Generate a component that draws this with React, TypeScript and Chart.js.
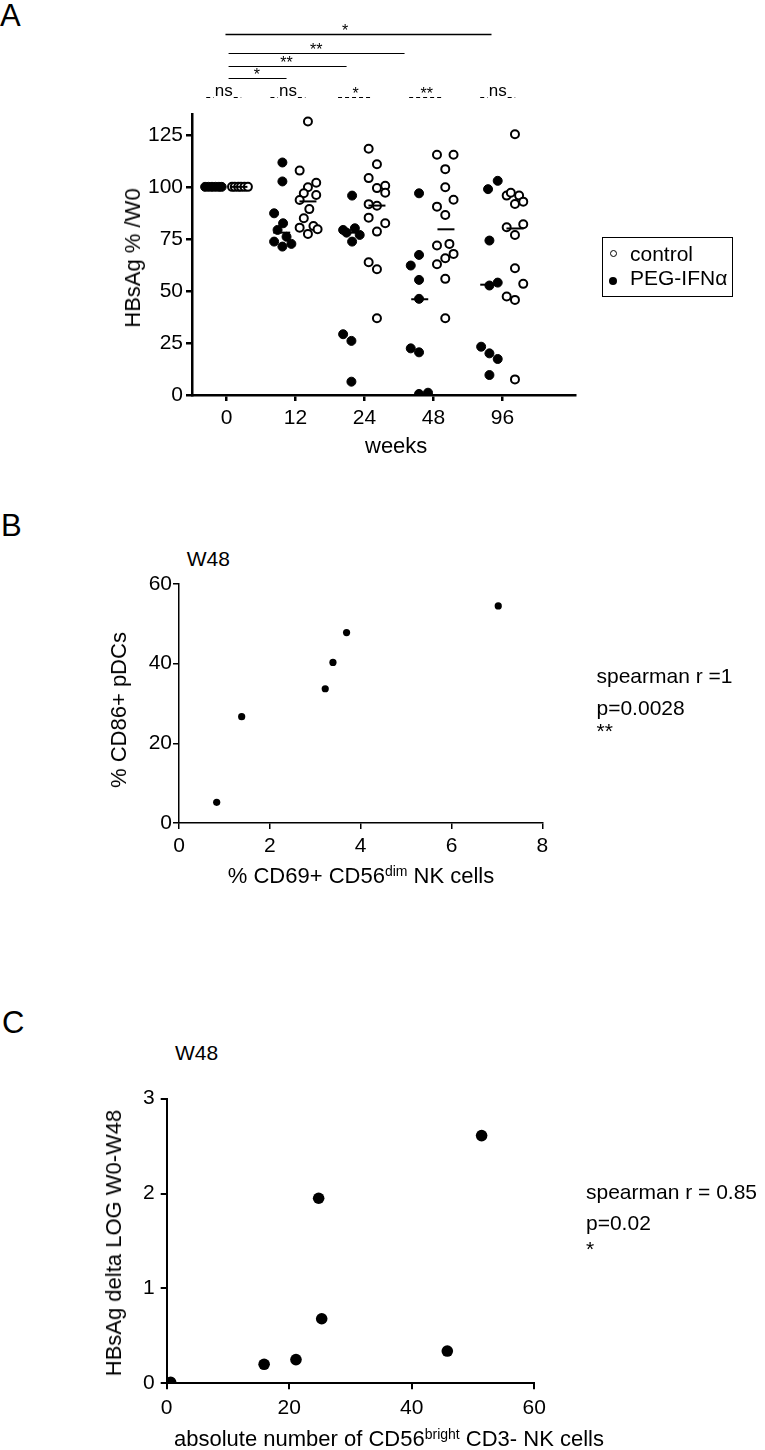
import React, { useEffect, useRef } from 'react';
import { Chart, registerables } from 'chart.js';
Chart.register(...registerables);

const FONT = '"Liberation Sans", Arial, Helvetica, sans-serif';

// ---------- Panel A data ----------
const weekLabels = ['0', '12', '24', '48', '96'];
const aYTicks = [0, 25, 50, 75, 100, 125];
const aXTicks = [0, 1, 2, 3, 4];
const pegValues = [
  [100, 100, 100, 100, 100, 100],
  [111.7, 102.6, 87.3, 82.5, 79.3, 73.7, 71.3, 72.6, 76],
  [95.8, 79.3, 80.1, 76.9, 73.7, 78, 29.2, 26, 6.4],
  [96.9, 67.3, 62.2, 55.3, 46.2, 22.4, 20.5, 0.5, 1.1],
  [102.9, 98.9, 74.2, 52.6, 54, 23.2, 20, 17.3, 9.6],
];
const pegJitter = [
  [-0.31, -0.26, -0.21, -0.16, -0.11, -0.07],
  [-0.19, -0.19, -0.31, -0.18, -0.26, -0.31, -0.19, -0.06, -0.13],
  [-0.18, -0.31, -0.14, -0.07, -0.18, -0.26, -0.31, -0.19, -0.19],
  [-0.21, -0.21, -0.33, -0.21, -0.21, -0.33, -0.21, -0.21, -0.08],
  [-0.07, -0.21, -0.19, -0.19, -0.07, -0.31, -0.19, -0.07, -0.19],
];
const ctrlValues = [
  [100, 100, 100, 100, 100, 100],
  [131.4, 107.8, 102, 99.8, 96.9, 96.1, 93.7, 89.3, 84.9, 81.2, 80.4, 79.6, 77.4],
  [118.3, 110.9, 104.2, 100.5, 99.4, 97.2, 91.7, 90.9, 85.2, 82.5, 78.5, 63.8, 60.4, 36.9],
  [115.4, 115.4, 108.5, 99.8, 93.8, 90.5, 86.5, 71.8, 72.6, 67.8, 65.7, 62.8, 55.8, 36.9],
  [125.3, 95.8, 97.2, 95.8, 91.8, 92.9, 80.6, 82, 76.9, 60.9, 53.4, 47.3, 45.7, 7.5],
];
const ctrlJitter = [
  [0.08, 0.12, 0.17, 0.21, 0.26, 0.31],
  [0.18, 0.06, 0.3, 0.18, 0.12, 0.3, 0.06, 0.2, 0.12, 0.26, 0.06, 0.32, 0.18],
  [0.06, 0.18, 0.06, 0.3, 0.18, 0.3, 0.06, 0.18, 0.06, 0.3, 0.18, 0.06, 0.18, 0.18],
  [0.05, 0.29, 0.17, 0.17, 0.29, 0.05, 0.17, 0.05, 0.23, 0.29, 0.17, 0.05, 0.17, 0.17],
  [0.18, 0.06, 0.12, 0.24, 0.18, 0.3, 0.06, 0.3, 0.18, 0.18, 0.3, 0.06, 0.18, 0.18],
];
const pegMeans = [100, 78, 78, 46, 53];
const ctrlMeans = [100, 93, 91, 79.6, 80];
const pegMeanOffset = -0.2;
const ctrlMeanOffset = 0.18;

// significance annotations (x in category units, level in y units)
const bracketFrom = [0.03, 0.03, 0.03, -0.015];
const bracketTo = [0.87, 1.74, 2.58, 3.84];
const bracketLevel = [152.4, 158.3, 164.2, 173.6];
const bracketLabels = ['*', '**', '**', '*'];
const bracketLabelX = [0.44, 0.87, 1.3, 1.72];
const groupSig = ['ns', 'ns', '*', '**', 'ns'];
const groupSigX = [-0.04, 0.89, 1.87, 2.9, 3.93];
const groupSigLevel = 143.4;

// ---------- Panel B data ----------
const bX = [0.83, 1.38, 3.22, 3.39, 3.69, 7.03];
const bY = [5.2, 26.7, 33.7, 40.3, 47.8, 54.5];
const bXTicks = [0, 2, 4, 6, 8];
const bYTicks = [0, 20, 40, 60];

// ---------- Panel C data ----------
const cX = [0.65, 15.9, 21.1, 25.3, 24.8, 45.8, 51.4];
const cY = [0.01, 0.2, 0.25, 0.68, 1.95, 0.34, 2.61];
const cXTicks = [0, 20, 40, 60];
const cYTicks = [0, 1, 2, 3];

function axis(
  kind: 'x' | 'y',
  min: number,
  max: number,
  ticks: number[],
  lw: number,
  size: number,
  pad: number,
  label?: (v: number) => string
) {
  return {
    type: 'linear',
    min,
    max,
    position: kind === 'x' ? 'bottom' : 'left',
    afterBuildTicks: (s: any) => {
      s.ticks = ticks.map((v) => ({ value: v }));
    },
    afterFit: (s: any) => {
      if (kind === 'x') s.height = size;
      else s.width = size;
    },
    grid: {
      display: true,
      drawOnChartArea: false,
      drawTicks: true,
      tickLength: 6,
      color: '#000',
      lineWidth: lw,
      tickWidth: lw,
    },
    border: { display: true, color: '#000', width: lw },
    ticks: {
      color: '#000',
      font: { family: FONT, size: 21 },
      padding: pad,
      maxRotation: 0,
      autoSkip: false,
      callback: label ? (v: any) => label(Number(v)) : (v: any) => String(v),
    },
  };
}

const baseOptions = (padding: any, scales: any, extra: any = {}) => ({
  responsive: false,
  maintainAspectRatio: false,
  animation: false,
  devicePixelRatio: 1,
  layout: { padding },
  plugins: { legend: { display: false }, tooltip: { enabled: false }, title: { display: false } },
  scales,
  ...extra,
});

const sigPlugin = {
  id: 'sigMarks',
  afterDraw(chart: any) {
    const { ctx } = chart;
    const x = chart.scales.x;
    const y = chart.scales.y;
    ctx.save();
    ctx.fillStyle = '#000';
    ctx.strokeStyle = '#000';
    ctx.textAlign = 'center';
    ctx.textBaseline = 'alphabetic';
    bracketFrom.forEach((f, i) => {
      const py = Math.round(y.getPixelForValue(bracketLevel[i])) + 0.5;
      ctx.lineWidth = i === 3 ? 1.7 : 1.2;
      ctx.beginPath();
      ctx.moveTo(x.getPixelForValue(f), py);
      ctx.lineTo(x.getPixelForValue(bracketTo[i]), py);
      ctx.stroke();
      ctx.font = `16px ${FONT}`;
      ctx.fillText(bracketLabels[i], x.getPixelForValue(bracketLabelX[i]), py + 1.5);
    });
    const gy = Math.round(y.getPixelForValue(groupSigLevel)) + 0.5;
    groupSig.forEach((s, i) => {
      const cx = x.getPixelForValue(groupSigX[i]);
      const isNs = s === 'ns';
      ctx.font = isNs ? `17px ${FONT}` : `16px ${FONT}`;
      const w = ctx.measureText(s).width;
      ctx.fillText(s, cx, isNs ? gy - 1.5 : gy + 1.7);
      ctx.setLineDash([4, 3]);
      ctx.lineWidth = 1;
      ctx.beginPath();
      if (isNs) {
        ctx.moveTo(cx - 17.5, gy);
        ctx.lineTo(cx - w / 2 - 1, gy);
        ctx.moveTo(cx + w / 2 + 1, gy);
        ctx.lineTo(cx + 17.5, gy);
      } else {
        ctx.moveTo(cx - 17.5, gy);
        ctx.lineTo(cx + 17.5, gy);
      }
      ctx.stroke();
      ctx.setLineDash([]);
    });
    ctx.restore();
  },
};

function makeA() {
  const peg: any[] = [];
  const ctrl: any[] = [];
  pegValues.forEach((vals, w) => vals.forEach((v, j) => peg.push({ x: w + pegJitter[w][j], y: v })));
  ctrlValues.forEach((vals, w) => vals.forEach((v, j) => ctrl.push({ x: w + ctrlJitter[w][j], y: v })));
  const meanLine = {
    type: 'scatter',
    pointStyle: 'line',
    pointRadius: 8.5,
    pointBorderWidth: 2,
    borderColor: '#000',
    backgroundColor: '#000',
  };
  return {
    type: 'scatter',
    data: {
      datasets: [
        { ...meanLine, label: 'ctrl mean', data: ctrlMeans.map((m, w) => ({ x: w + ctrlMeanOffset, y: m })) },
        { ...meanLine, label: 'peg mean', data: pegMeans.map((m, w) => ({ x: w + pegMeanOffset, y: m })) },
        {
          label: 'control',
          data: ctrl,
          pointRadius: 4,
          pointBorderWidth: 2,
          borderColor: '#000',
          backgroundColor: '#fff',
        },
        {
          label: 'PEG-IFNα',
          data: peg,
          pointRadius: 4.5,
          pointBorderWidth: 1,
          borderColor: '#000',
          backgroundColor: '#000',
        },
      ],
    },
    options: baseOptions(
      { top: 114, right: 45, left: 0, bottom: 0 },
      {
        x: axis('x', -0.5, 5.05, aXTicks, 2.5, 75, 5, (v) => weekLabels[v] ?? ''),
        y: axis('y', 0, 135, aYTicks, 2.5, 192, 3),
      }
    ),
    plugins: [sigPlugin],
  };
}

function makeB() {
  return {
    type: 'scatter',
    data: {
      datasets: [
        {
          label: 'W48',
          data: bX.map((x, i) => ({ x, y: bY[i] })),
          pointRadius: 3.6,
          pointBorderWidth: 0,
          backgroundColor: '#000',
          borderColor: '#000',
        },
      ],
    },
    options: baseOptions(
      { top: 24, right: 77.7, left: 0, bottom: 0 },
      {
        x: axis('x', 0, 8, bXTicks, 1.5, 77, 5),
        y: axis('y', 0, 60, bYTicks, 1.5, 179, 1),
      }
    ),
  };
}

function makeC() {
  return {
    type: 'scatter',
    data: {
      datasets: [
        {
          label: 'W48',
          data: cX.map((x, i) => ({ x, y: cY[i] })),
          pointRadius: 5.8,
          pointBorderWidth: 0,
          backgroundColor: '#000',
          borderColor: '#000',
        },
      ],
    },
    options: baseOptions(
      { top: 18.3, right: 85.7, left: 0, bottom: 0 },
      {
        x: axis('x', 0, 60, cXTicks, 2, 66.7, 6),
        y: axis('y', 0, 3, cYTicks, 2, 166.7, 6),
      }
    ),
  };
}

function ChartCanvas(props: { left: number; top: number; width: number; height: number; make: () => any }) {
  const ref = useRef<HTMLCanvasElement | null>(null);
  useEffect(() => {
    if (!ref.current) return;
    const chart = new Chart(ref.current, props.make());
    return () => chart.destroy();
  }, []);
  return (
    <canvas
      ref={ref}
      width={props.width}
      height={props.height}
      style={{ position: 'absolute', left: props.left, top: props.top, width: props.width, height: props.height }}
    />
  );
}

function Txt(props: { x: number; baseline: number; size: number; children: any; color?: string }) {
  return (
    <div
      style={{
        position: 'absolute',
        left: props.x,
        top: props.baseline - 0.8465 * props.size,
        fontSize: props.size,
        lineHeight: `${props.size}px`,
        fontFamily: FONT,
        color: props.color ?? '#000',
        whiteSpace: 'nowrap',
      }}
    >
      {props.children}
    </div>
  );
}

function VTxt(props: { cx: number; cy: number; size: number; children: any }) {
  return (
    <div
      style={{
        position: 'absolute',
        left: props.cx,
        top: props.cy,
        transform: 'translate(-50%, -50%) rotate(-90deg)',
        fontSize: props.size,
        lineHeight: `${props.size}px`,
        fontFamily: FONT,
        color: '#000',
        whiteSpace: 'nowrap',
      }}
    >
      {props.children}
    </div>
  );
}

const sup = (t: string) => (
  <span style={{ fontSize: 14, position: 'relative', top: -7 }}>{t}</span>
);

export default function App() {
  return (
    <div
      style={{
        position: 'absolute',
        left: 0,
        top: 0,
        width: 765,
        height: 1450,
        overflow: 'hidden',
        background: '#fff',
        fontFamily: FONT,
      }}
    >
      {/* Panel A */}
      <Txt x={0} baseline={26} size={31}>A</Txt>
      <ChartCanvas left={0} top={0} width={620} height={470} make={makeA} />
      <VTxt cx={133} cy={258} size={22}>HBsAg % /W0</VTxt>
      <Txt x={365} baseline={454} size={22}>weeks</Txt>
      <div
        style={{
          position: 'absolute',
          left: 602,
          top: 237,
          width: 131,
          height: 60,
          border: '1px solid #000',
          boxSizing: 'border-box',
        }}
      />
      <div
        style={{
          position: 'absolute',
          left: 609.5,
          top: 249.5,
          width: 7.5,
          height: 7.5,
          borderRadius: '50%',
          border: '1px solid #000',
          boxSizing: 'border-box',
        }}
      />
      <div
        style={{
          position: 'absolute',
          left: 609.3,
          top: 276.5,
          width: 8,
          height: 8,
          borderRadius: '50%',
          background: '#000',
        }}
      />
      <Txt x={630} baseline={260.5} size={21}>control</Txt>
      <Txt x={630} baseline={284.5} size={21}>PEG-IFNα</Txt>

      {/* Panel B */}
      <Txt x={1} baseline={536.7} size={31}>B</Txt>
      <Txt x={186.7} baseline={565.5} size={21}>W48</Txt>
      <ChartCanvas left={0} top={560} width={620} height={340} make={makeB} />
      <VTxt cx={119.4} cy={710} size={22}>% CD86+ pDCs</VTxt>
      <div
        style={{
          position: 'absolute',
          left: 180,
          width: 362,
          top: 884 - 0.8465 * 22,
          fontSize: 22,
          lineHeight: '22px',
          textAlign: 'center',
          whiteSpace: 'nowrap',
          color: '#000',
        }}
      >
        % CD69+ CD56{sup('dim')} NK cells
      </div>
      <Txt x={596.5} baseline={683} size={21}>spearman r =1</Txt>
      <Txt x={596.5} baseline={715} size={21}>p=0.0028</Txt>
      <Txt x={596.5} baseline={738} size={21}>**</Txt>

      {/* Panel C */}
      <Txt x={2} baseline={1033} size={31}>C</Txt>
      <Txt x={175} baseline={1059.3} size={21}>W48</Txt>
      <ChartCanvas left={0} top={1080} width={620} height={370} make={makeC} />
      <VTxt cx={114} cy={1242.5} size={22}>HBsAg delta LOG W0-W48</VTxt>
      <Txt x={174} baseline={1447} size={22}>
        absolute number of CD56{sup('bright')} CD3- NK cells
      </Txt>
      <Txt x={586} baseline={1198.3} size={21}>spearman r = 0.85</Txt>
      <Txt x={586} baseline={1229.3} size={21}>p=0.02</Txt>
      <Txt x={586} baseline={1256} size={21}>*</Txt>
    </div>
  );
}
